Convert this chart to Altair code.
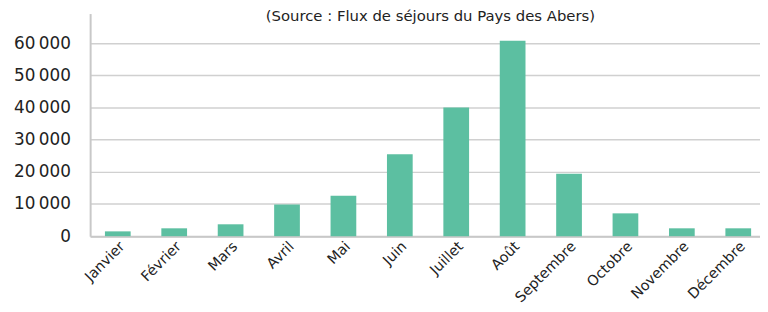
import altair as alt
import pandas as pd

mois = ["Janvier", "Février", "Mars", "Avril", "Mai", "Juin", "Juillet",
        "Août", "Septembre", "Octobre", "Novembre", "Décembre"]
sejours = [1500, 2450, 3700, 9850, 12600, 25500, 40000, 60800, 19400, 7100, 2450, 2450]
y_ticks = [0, 10000, 20000, 30000, 40000, 50000, 60000]
titre = "(Source : Flux de séjours du Pays des Abers)"

df = pd.DataFrame({"mois": mois, "sejours": sejours})

FONT = "DejaVu Sans"

chart = alt.Chart(df).mark_bar(color="#5CBFA1").encode(
    x=alt.X("mois:N", sort=mois, title=None,
            scale=alt.Scale(paddingInner=0.544, paddingOuter=0.21, align=0.625),
            axis=alt.Axis(labelAngle=-45, labelFont=FONT, labelFontSize=14.5,
                          labelColor="#222222", ticks=False, domain=True,
                          domainColor="#C8C8C8", domainWidth=2,
                          labelPadding=3, labelAlign="right", labelBaseline="top")),
    y=alt.Y("sejours:Q", title=None,
            scale=alt.Scale(domain=[0, 69230], nice=False),
            axis=alt.Axis(values=y_ticks, format=",d", labelFont=FONT, labelFontSize=17,
                          labelColor="#222222", ticks=False, domain=True,
                          domainColor="#C8C8C8", domainWidth=2,
                          gridColor="#D0D0D0", gridWidth=1.5, labelPadding=20)),
).properties(
    width=677,
    height=225,
    padding={"left": 83, "top": 4, "right": 0, "bottom": 75},
    autosize=alt.AutoSizeParams(type="none"),
    title=alt.TitleParams(titre, font=FONT, fontSize=15, fontWeight="normal",
                          color="#222222", anchor="start", dx=255, offset=0,
                          baseline="top", dy=11),
).configure(
    locale={"number": {"decimal": ",", "thousands": "\u202f", "grouping": [3], "currency": ["", " €"]}}
).configure_view(stroke=None)

chart.save("out.html", embed_options={"renderer": "svg", "actions": False})
